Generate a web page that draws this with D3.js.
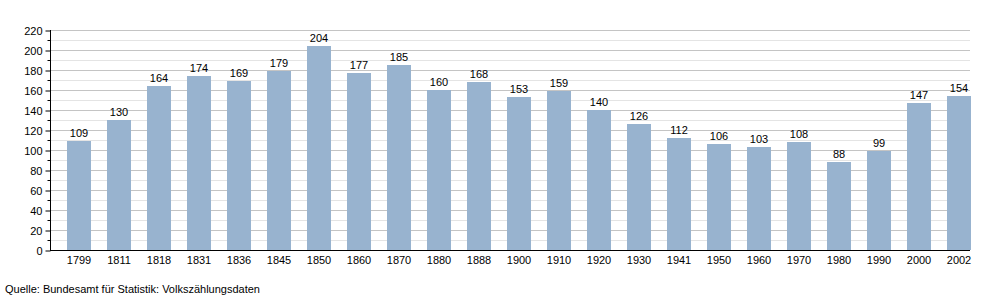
<!DOCTYPE html>
<html>
<head>
<meta charset="utf-8">
<script src="https://cdn.jsdelivr.net/npm/d3@7"></script>
<style>
  body { margin: 0; background: #fff; }
  svg text { font-family: "Liberation Sans", Arial, sans-serif; font-size: 11px; fill: #000; }
</style>
</head>
<body>
<div id="chart"></div>
<script>
// data
var years = ["1799","1811","1818","1831","1836","1845","1850","1860","1870","1880","1888","1900",
             "1910","1920","1930","1941","1950","1960","1970","1980","1990","2000","2002"];
var values = [109,130,164,174,169,179,204,177,185,160,168,153,159,140,126,112,106,103,108,88,99,147,154];
var majorTicks = [0,20,40,60,80,100,120,140,160,180,200,220];
var minorTicks = [10,30,50,70,90,110,130,150,170,190,210];
var source = "Quelle: Bundesamt für Statistik: Volkszählungsdaten";

var svg = d3.select("#chart").append("svg")
    .attr("width", 1000)
    .attr("height", 300);

// note: "top" is taken by window.top, so plot* names
var plotLeft = 50, plotRight = 970, plotTop = 30, plotBottom = 250;

var y = d3.scaleLinear().domain([0, 220]).range([plotBottom, plotTop]);
var x = d3.scaleBand().domain(years).range([59, 979]).paddingInner(0.4).paddingOuter(0.2);

// gridlines, minor first
svg.append("g").selectAll("line")
    .data(minorTicks).enter().append("line")
    .attr("x1", plotLeft).attr("x2", plotRight)
    .attr("y1", function(d) { return y(d) + 0.5; })
    .attr("y2", function(d) { return y(d) + 0.5; })
    .attr("stroke", "#e4e4e4");

svg.append("g").selectAll("line")
    .data(majorTicks.slice(1)).enter().append("line")
    .attr("x1", plotLeft).attr("x2", plotRight)
    .attr("y1", function(d) { return y(d) + 0.5; })
    .attr("y2", function(d) { return y(d) + 0.5; })
    .attr("stroke", "#c4c4c4");

// bars
svg.append("g").selectAll("rect")
    .data(values).enter().append("rect")
    .attr("x", function(d, i) { return x(years[i]); })
    .attr("y", function(d) { return y(d); })
    .attr("width", x.bandwidth())
    .attr("height", function(d) { return plotBottom - y(d); })
    .attr("fill", "#98b3cf");

// value labels
svg.append("g").selectAll("text")
    .data(values).enter().append("text")
    .attr("x", function(d, i) { return x(years[i]) + x.bandwidth() / 2; })
    .attr("y", function(d) { return y(d) - 4; })
    .attr("text-anchor", "middle")
    .text(function(d) { return d; });

// y axis
var yAxis = svg.append("g")
    .attr("transform", "translate(" + (plotLeft + 0.5) + ",0.5)")
    .call(d3.axisLeft(y).tickValues(majorTicks).tickSize(5).tickPadding(3));
yAxis.select(".domain").attr("stroke", "#000").attr("d", "M0," + (plotTop - 0.5) + "V" + (plotBottom - 0.5));
yAxis.selectAll("text").style("font-size", "11px").attr("fill", "#000");

svg.append("g").selectAll("line")
    .data(minorTicks).enter().append("line")
    .attr("x1", plotLeft - 2.5).attr("x2", plotLeft + 0.5)
    .attr("y1", function(d) { return y(d) + 0.5; })
    .attr("y2", function(d) { return y(d) + 0.5; })
    .attr("stroke", "#000");

// x axis
var xAxis = svg.append("g")
    .attr("transform", "translate(0," + (plotBottom + 0.5) + ")")
    .call(d3.axisBottom(x).tickSize(0).tickPadding(6));
xAxis.select(".domain").attr("stroke", "#000").attr("d", "M" + plotLeft + ",0H" + plotRight);
xAxis.selectAll("text").style("font-size", "11px").attr("fill", "#000");

// source
svg.append("text")
    .attr("x", 5)
    .attr("y", 293)
    .text(source);
</script>
</body>
</html>
